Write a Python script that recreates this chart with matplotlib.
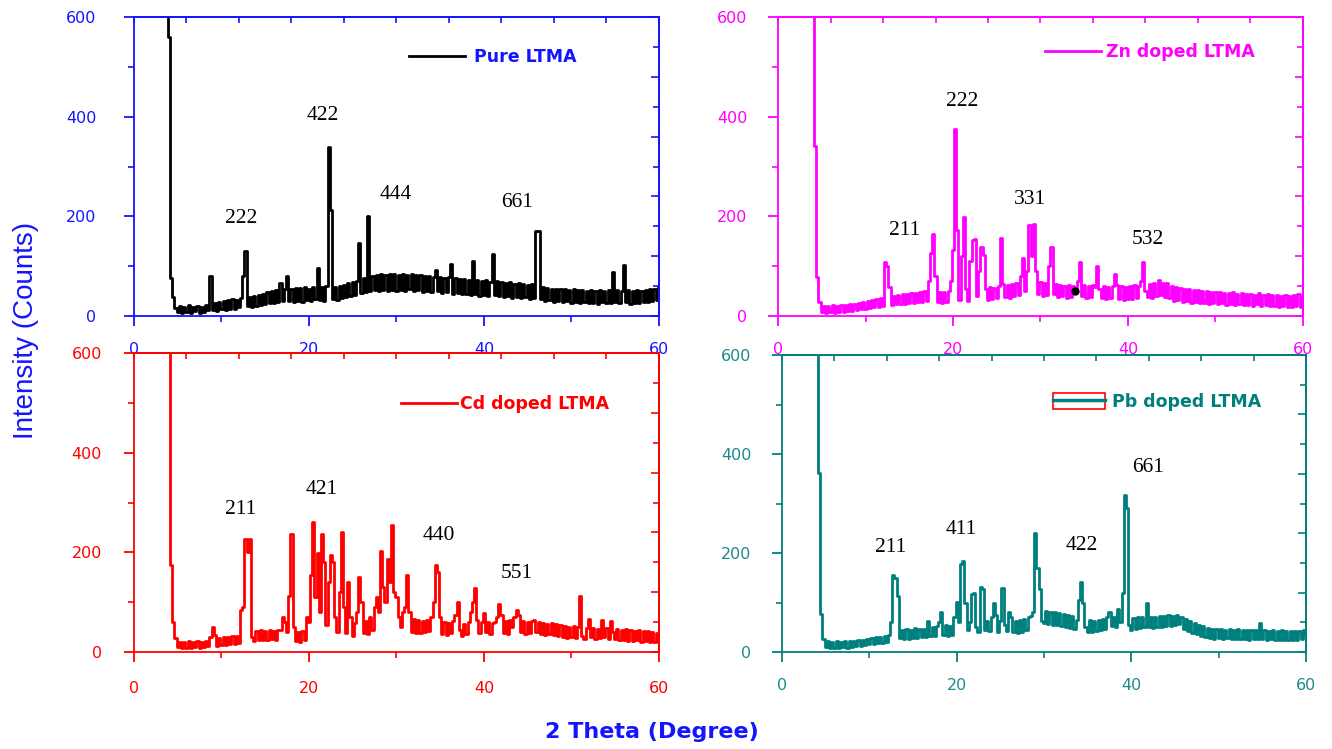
import matplotlib.pyplot as plt
import numpy as np
from matplotlib.patches import Patch
from matplotlib.lines import Line2D
from matplotlib.legend_handler import HandlerTuple

# 2 theta grid of the scans (step 0.25 deg)
two_theta = np.arange(3.75, 60.01, 0.25)

# intensities, 20 values per row = 5 degrees
pure_ltma = [
    1200, 560, 76, 38, 16, 8, 20, 6, 18, 9, 22, 7, 19, 10, 21, 6, 18, 9, 22, 12,
    80, 12, 26, 10, 28, 14, 30, 12, 32, 15, 34, 14, 33, 18, 36, 80, 131, 20, 38, 18,
    40, 20, 42, 22, 45, 24, 48, 26, 50, 27, 52, 28, 67, 30, 54, 80, 30, 55, 28, 56,
    30, 57, 28, 58, 32, 55, 30, 58, 34, 96, 32, 58, 30, 60, 340, 213, 34, 58, 32, 60,
    36, 62, 38, 66, 40, 68, 42, 70, 146, 46, 76, 48, 200, 50, 80, 52, 82, 50, 84, 52,
    82, 50, 84, 52, 85, 50, 83, 52, 84, 50, 82, 54, 85, 50, 83, 52, 82, 48, 80, 50,
    80, 48, 78, 92, 50, 78, 46, 76, 48, 78, 104, 44, 76, 46, 74, 44, 75, 45, 72, 42,
    111, 44, 72, 40, 70, 42, 72, 40, 68, 125, 42, 70, 40, 68, 38, 66, 40, 68, 36, 64,
    38, 66, 36, 64, 38, 62, 35, 64, 36, 171, 171, 34, 58, 30, 56, 32, 55, 28, 54, 30,
    55, 28, 54, 30, 52, 26, 54, 28, 52, 26, 53, 28, 50, 26, 52, 27, 50, 25, 52, 28,
    50, 26, 52, 27, 89, 28, 52, 26, 50, 102, 28, 52, 25, 50, 27, 52, 26, 50, 28, 52,
    28, 54, 30, 55, 32, 58]

zn_doped = [
    1200, 900, 341, 79, 29, 8, 20, 6, 21, 8, 22, 7, 20, 9, 23, 8, 22, 10, 24, 10,
    25, 12, 27, 14, 29, 15, 31, 16, 33, 18, 35, 18, 36, 20, 108, 100, 58, 22, 40, 24,
    42, 24, 44, 25, 45, 26, 46, 27, 47, 28, 48, 29, 50, 30, 70, 126, 165, 80, 28, 48,
    26, 48, 28, 50, 70, 133, 375, 173, 32, 120, 198, 55, 30, 110, 153, 154, 40, 90, 139, 123,
    55, 32, 58, 34, 56, 36, 60, 156, 65, 38, 62, 36, 64, 40, 66, 42, 80, 116, 50, 90,
    183, 120, 185, 90, 45, 68, 40, 66, 42, 100, 139, 45, 64, 38, 62, 40, 60, 36, 62, 38,
    60, 51, 70, 108, 40, 62, 36, 60, 38, 62, 58, 101, 55, 36, 60, 34, 58, 36, 60, 84,
    62, 35, 60, 33, 58, 35, 60, 34, 62, 36, 60, 70, 108, 50, 38, 64, 36, 66, 40, 72,
    42, 66, 38, 67, 36, 60, 30, 58, 32, 56, 28, 55, 30, 54, 27, 52, 28, 53, 26, 50,
    27, 50, 25, 48, 27, 49, 24, 48, 26, 47, 23, 46, 25, 48, 22, 45, 24, 46, 22, 44,
    23, 45, 21, 43, 24, 46, 21, 43, 22, 44, 20, 42, 21, 43, 19, 41, 21, 42, 18, 40,
    18, 42, 20, 45, 18, 34]

cd_doped = [
    1200, 900, 175, 60, 28, 10, 20, 8, 21, 9, 22, 8, 20, 10, 22, 9, 21, 10, 22, 12,
    30, 50, 35, 12, 28, 14, 30, 15, 31, 16, 32, 17, 33, 18, 84, 90, 227, 200, 227, 30,
    22, 42, 24, 44, 25, 43, 24, 44, 26, 42, 25, 45, 45, 71, 60, 40, 113, 237, 50, 22,
    40, 20, 42, 25, 71, 60, 155, 260, 110, 198, 80, 237, 181, 55, 141, 194, 181, 70, 40, 120,
    241, 90, 38, 140, 70, 32, 58, 80, 151, 101, 38, 62, 36, 70, 45, 90, 110, 80, 203, 130,
    100, 187, 140, 254, 121, 110, 70, 50, 80, 90, 155, 80, 40, 66, 38, 64, 38, 62, 40, 65,
    42, 70, 100, 175, 161, 70, 36, 60, 34, 58, 38, 62, 75, 101, 45, 32, 56, 36, 60, 80,
    100, 128, 65, 38, 60, 79, 40, 60, 36, 58, 60, 70, 97, 75, 38, 62, 36, 64, 50, 70,
    84, 75, 40, 62, 36, 60, 38, 62, 64, 40, 60, 36, 58, 34, 56, 36, 59, 34, 56, 32,
    54, 30, 52, 28, 50, 30, 52, 28, 50, 113, 32, 26, 48, 66, 30, 48, 26, 47, 28, 64,
    30, 48, 26, 62, 40, 26, 46, 24, 45, 25, 46, 23, 44, 22, 43, 24, 44, 21, 42, 22,
    42, 20, 40, 21, 38, 20]

pb_doped = [
    1200, 900, 361, 76, 27, 10, 22, 8, 21, 9, 22, 8, 21, 10, 23, 9, 22, 10, 23, 12,
    24, 13, 25, 14, 27, 16, 28, 17, 30, 18, 31, 19, 32, 20, 34, 60, 155, 150, 113, 28,
    44, 26, 46, 27, 45, 28, 48, 28, 47, 30, 46, 30, 62, 32, 50, 32, 52, 60, 81, 34,
    54, 32, 52, 34, 70, 101, 60, 177, 183, 100, 45, 60, 118, 120, 50, 40, 131, 128, 45, 62,
    42, 70, 98, 75, 40, 62, 129, 55, 42, 81, 70, 40, 62, 38, 64, 40, 66, 44, 70, 72,
    80, 241, 169, 127, 62, 58, 82, 56, 80, 55, 80, 54, 78, 52, 76, 50, 74, 48, 72, 46,
    65, 105, 142, 100, 50, 40, 64, 40, 62, 42, 64, 44, 66, 46, 70, 81, 52, 70, 50, 86,
    60, 120, 317, 290, 55, 45, 68, 46, 70, 48, 70, 50, 100, 50, 70, 48, 70, 50, 72, 50,
    72, 52, 74, 52, 72, 54, 74, 56, 70, 46, 66, 42, 62, 38, 58, 36, 55, 32, 52, 30,
    48, 28, 47, 27, 46, 28, 47, 27, 45, 28, 46, 26, 45, 27, 46, 26, 45, 27, 44, 25,
    44, 26, 45, 27, 59, 26, 44, 25, 43, 26, 44, 24, 43, 25, 44, 24, 42, 25, 43, 24,
    42, 24, 43, 26, 45, 34]

# hkl labels: (2theta, intensity, text)
pure_hkl = [(12.3, 196, '222'), (21.6, 402, '422'), (29.9, 243, '444'), (43.8, 228, '661')]
zn_hkl = [(14.5, 171, '211'), (21.0, 431, '222'), (28.8, 233, '331'), (42.3, 153, '532')]
cd_hkl = [(12.2, 286, '211'), (21.5, 326, '421'), (34.8, 233, '440'), (43.8, 158, '551')]
pb_hkl = [(12.4, 212, '211'), (20.5, 248, '411'), (34.3, 216, '422'), (41.9, 373, '661')]

zn_dot = (34.0, 51)

BLUE = '#1414ff'
MAGENTA = '#ff00ff'
RED = '#ff0000'
TEAL = '#007f7f'


def style_axes(ax, color, label_color, ypad, xpad):
    ax.set_xlim(0, 60)
    ax.set_ylim(0, 600)
    for s in ax.spines.values():
        s.set_color(color)
        s.set_linewidth(1.3)
    ax.set_xticks([0, 20, 40, 60])
    ax.set_xticks([10, 30, 50], minor=True)
    ax.set_yticks([0, 200, 400, 600])
    ax.set_yticks([100, 300, 500], minor=True)
    ax.tick_params(which='major', direction='out', length=7, width=1.3,
                   color=color, labelcolor=label_color, labelsize=11.5)
    ax.tick_params(which='minor', direction='out', length=4, width=1.2, color=color)
    ax.tick_params(axis='y', which='major', pad=ypad)
    ax.tick_params(axis='x', which='major', pad=xpad)
    # inward ticks on the top and right frame
    top = ax.secondary_xaxis('top')
    top.set_xticks(np.arange(0, 61, 6))
    top.tick_params(direction='in', length=4, width=1.2, color=color, labeltop=False)
    top.spines['top'].set_color(color)
    top.spines['top'].set_linewidth(1.3)
    right = ax.secondary_yaxis('right')
    right.set_yticks(np.arange(0, 601, 120))
    right.set_yticks(np.arange(60, 600, 120), minor=True)
    right.tick_params(which='major', direction='in', length=6, width=1.2, color=color, labelright=False)
    right.tick_params(which='minor', direction='in', length=4, width=1.2, color=color)
    right.spines['right'].set_color(color)
    right.spines['right'].set_linewidth(1.3)


def hkl_labels(ax, peaks):
    for x, y, t in peaks:
        ax.text(x, y, t, ha='center', va='center', fontsize=15.5,
                family='Liberation Serif', color='black')


fig = plt.figure(figsize=(13.32, 7.49), dpi=100)

ax1 = fig.add_axes([0.1006, 0.5781, 0.3941, 0.3992])
ax2 = fig.add_axes([0.5841, 0.5781, 0.3941, 0.3992])
ax3 = fig.add_axes([0.1006, 0.1295, 0.3941, 0.3992])
ax4 = fig.add_axes([0.5871, 0.1295, 0.3934, 0.3965])

leg_font = {'weight': 'bold', 'size': 12.5}
LW = 2.0

# Pure LTMA
l1, = ax1.plot(two_theta, pure_ltma, color='black', lw=LW, drawstyle='steps-mid')
style_axes(ax1, BLUE, BLUE, 20, 12)
hkl_labels(ax1, pure_hkl)
ax1.legend([l1], ['Pure LTMA'], loc='center left', bbox_to_anchor=(0.524, 0.866),
           frameon=False, prop=leg_font, labelcolor=BLUE, handlelength=3.2,
           handletextpad=0.55, borderpad=0, borderaxespad=0)

# Zn doped
l2, = ax2.plot(two_theta, zn_doped, color=MAGENTA, lw=LW, drawstyle='steps-mid')
ax2.plot(zn_dot[0], zn_dot[1], 'o', color='black', ms=5)
style_axes(ax2, MAGENTA, MAGENTA, 15, 12)
hkl_labels(ax2, zn_hkl)
ax2.legend([l2], ['Zn doped LTMA'], loc='center left', bbox_to_anchor=(0.509, 0.883),
           frameon=False, prop=leg_font, labelcolor=MAGENTA, handlelength=3.2,
           handletextpad=0.3, borderpad=0, borderaxespad=0)

# Cd doped
l3, = ax3.plot(two_theta, cd_doped, color=RED, lw=LW, drawstyle='steps-mid')
style_axes(ax3, RED, RED, 16, 14)
hkl_labels(ax3, cd_hkl)
ax3.legend([l3], ['Cd doped LTMA'], loc='center left', bbox_to_anchor=(0.509, 0.829),
           frameon=False, prop=leg_font, labelcolor=RED, handlelength=3.2,
           handletextpad=0.2, borderpad=0, borderaxespad=0)

# Pb doped
l4, = ax4.plot(two_theta, pb_doped, color=TEAL, lw=LW, drawstyle='steps-mid')
style_axes(ax4, TEAL, '#1f8a8a', 15, 12)
hkl_labels(ax4, pb_hkl)
box = Patch(facecolor='none', edgecolor='red', linewidth=1.2)
ax4.legend([(box, Line2D([], [], color=TEAL, lw=2.5))], ['Pb doped LTMA'],
           handler_map={tuple: HandlerTuple(ndivide=1, pad=0)},
           loc='center left', bbox_to_anchor=(0.517, 0.842),
           frameon=False, prop=leg_font, labelcolor=TEAL, handlelength=3.0,
           handleheight=1.1, handletextpad=0.4, borderpad=0, borderaxespad=0)

fig.text(0.0195, 0.559, 'Intensity (Counts)', rotation=90, ha='center', va='center',
         fontsize=20, family='Liberation Sans', color=BLUE)
fig.text(0.4895, 0.0227, '2 Theta (Degree)', ha='center', va='center',
         fontsize=16, weight='bold', color=BLUE)

fig.savefig('out.png', dpi=100)
